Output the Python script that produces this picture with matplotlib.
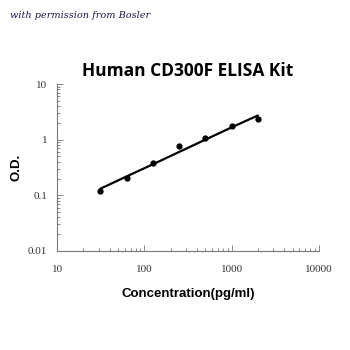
import numpy as np
import matplotlib.pyplot as plt
from matplotlib.ticker import NullFormatter

conc = [31.25, 62.5, 125, 250, 500, 1000, 2000]
od = [0.118, 0.202, 0.382, 0.762, 1.056, 1.79, 2.32]
fit_x = [31.25, 62.5, 125, 250, 500, 1000, 2000]
fit_y = [0.131, 0.218, 0.36, 0.60, 1.0, 1.66, 2.72]
xticks = [10, 100, 1000, 10000]
xtick_labels = ["10", "100", "1000", "10000"]
yticks = [0.01, 0.1, 1, 10]
ytick_labels = ["0.01", "0.1", "1", "10"]

fig = plt.figure(figsize=(3.5, 3.5), dpi=100)
ax = fig.add_axes([0.163, 0.283, 0.748, 0.477])

ax.plot(fit_x, fit_y, color="black", lw=1.6, solid_capstyle="round")
ax.plot(conc, od, "o", color="black", ms=3.5)

ax.set_xscale("log")
ax.set_yscale("log")
ax.set_xlim(10, 10000)
ax.set_ylim(0.01, 10)
ax.set_xticks(xticks)
ax.set_xticklabels(xtick_labels, family="Liberation Serif", fontsize=8, color="#333333")
ax.set_yticks(yticks)
ax.set_yticklabels(ytick_labels, family="Liberation Serif", fontsize=8, color="#333333")
ax.xaxis.set_minor_formatter(NullFormatter())
ax.yaxis.set_minor_formatter(NullFormatter())
ax.tick_params(which="both", direction="in", color="#777777", width=0.6)
ax.tick_params(which="major", length=4)
ax.tick_params(axis="x", which="major", pad=10)
ax.tick_params(axis="y", which="major", pad=7)
ax.tick_params(which="minor", length=2.5)
for s in ["top", "right"]:
    ax.spines[s].set_visible(False)
for s in ["left", "bottom"]:
    ax.spines[s].set_color("#777777")
    ax.spines[s].set_linewidth(0.8)

ax.set_xlabel("Concentration(pg/ml)", family="Liberation Sans", weight="bold",
              fontsize=9.5, labelpad=10)
ax.set_ylabel("O.D.", family="Liberation Sans", weight="bold", fontsize=9.5,
              labelpad=4)
ax.set_title("Human CD300F ELISA Kit", family="Open Sans", weight="bold",
             fontsize=12.5, pad=6)

fig.text(0.03, 0.955, "with permission from Bosler", family="DejaVu Serif",
         style="italic", fontsize=7, color="#1a1a4a", va="center")

fig.savefig("out.png", dpi=100, facecolor="white")
